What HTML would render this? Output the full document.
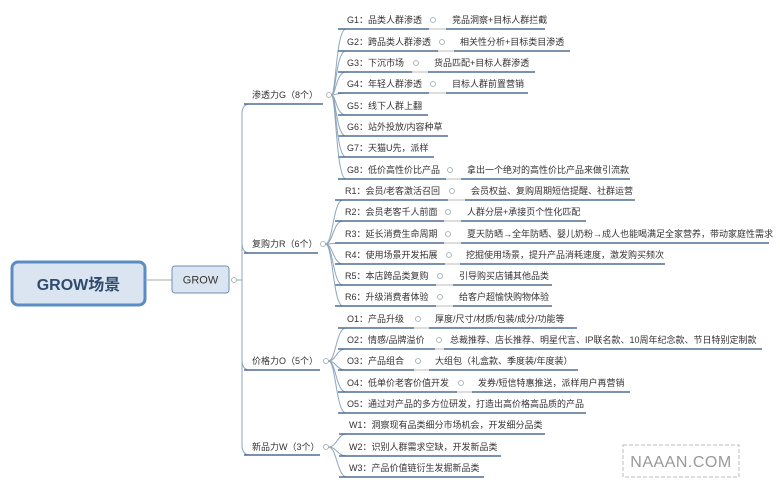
<!DOCTYPE html>
<html><head><meta charset="utf-8"><style>
html,body{margin:0;padding:0;background:#fff;}
svg{display:block;font-family:"Liberation Sans","Noto Sans CJK SC",sans-serif;}
text{font-size:9px;fill:#333;}
.u{stroke:#4e6f93;stroke-width:1.6;fill:none;}
.c{stroke:#8ea5bd;stroke-width:1;fill:none;}
.o{fill:#fff;stroke:#9aa;stroke-width:0.8;}
</style></head><body>
<svg width="780" height="488" viewBox="0 0 780 488" xmlns="http://www.w3.org/2000/svg">
<!-- root -->
<rect x="12" y="262" width="133" height="43" rx="6" fill="#dbe5f1" stroke="#5b8cc4" stroke-width="3"/>
<text x="78.5" y="290" text-anchor="middle" style="font-size:16px;font-weight:bold;fill:#2f4b6e">GROW场景</text>
<line x1="145" y1="280" x2="172" y2="280" stroke="#aaa" stroke-width="1"/>
<rect x="172" y="266" width="57" height="27" rx="3" fill="#dbe5f1" stroke="#6d8fb5" stroke-width="1"/>
<text x="200.5" y="283.5" text-anchor="middle" style="font-size:11px;fill:#333">GROW</text>
<circle class="o" cx="234" cy="280" r="2.5"/>
<!-- level1 trunk -->
<path class="c" d="M236.5,280 H242"/>
<path class="c" d="M250,104 Q242,104 242,114 V445 Q242,455 250,455"/>
<path class="c" d="M242,243 Q242,253 250,253"/>
<path class="c" d="M242,360 Q242,370 250,370"/>
<line class="u" x1="244" y1="104" x2="323" y2="104"/>
<line class="u" x1="244" y1="253" x2="318" y2="253"/>
<line class="u" x1="244" y1="370" x2="320" y2="370"/>
<line class="u" x1="244" y1="455" x2="320" y2="455"/>
<text x="252" y="98">渗透力G（8个）</text>
<text x="252" y="247">复购力R（6个）</text>
<text x="252" y="364">价格力O（5个）</text>
<text x="252" y="450">新品力W（3个）</text>
<circle class="o" cx="329" cy="95" r="2.5"/>
<circle class="o" cx="323" cy="244" r="2.5"/>
<circle class="o" cx="326" cy="361" r="2.5"/>
<circle class="o" cx="326" cy="447" r="2.5"/>
<g id="rows"></g>
<!-- watermark -->
<rect x="623" y="445" width="116" height="32" fill="#fff" stroke="#bbb" stroke-width="1" stroke-dasharray="4,2"/>
<text x="681" y="467" text-anchor="middle" style="font-size:16px;fill:#999;letter-spacing:0.5px">NAAAN.COM</text>
</svg>
<script>
var rows=[
 // group circle x,y, trunk x, label x, [y,label,circle,secondX,second,end]
 [329,95,336,347,[
  [20,"G1：品类人群渗透",433,452,"竞品洞察+目标人群拦截",545],
  [42,"G2：跨品类人群渗透",442,460,"相关性分析+目标类目渗透",570],
  [63,"G3：下沉市场",416,434,"货品匹配+目标人群渗透",535],
  [84,"G4：年轻人群渗透",433,452,"目标人群前置营销",528],
  [106,"G5：线下人群上翻",0,0,"",428],
  [127,"G6：站外投放/内容种草",0,0,"",448],
  [148,"G7：天猫U先，派样",0,0,"",434],
  [170,"G8：低价高性价比产品",450,467,"拿出一个绝对的高性价比产品来做引流款",630]]],
 [323,244,333,345,[
  [191,"R1：会员/老客激活召回",452,471,"会员权益、复购周期短信提醒、社群运营",635],
  [212,"R2：会员老客千人前面",448,467,"人群分层+承接页个性化匹配",586],
  [234,"R3：延长消费生命周期",448,467,"夏天防晒→全年防晒、婴儿奶粉→成人也能喝满足全家营养，带动家庭性需求",769],
  [255,"R4：使用场景开发拓展",449,466,"挖掘使用场景，提升产品消耗速度，激发购买频次",665],
  [276,"R5：本店跨品类复购",440,459,"引导购买店铺其他品类",552],
  [297,"R6：升级消费者体验",440,459,"给客户超愉快购物体验",552]]],
 [326,361,336,347,[
  [319,"O1：产品升级",418,435,"厚度/尺寸/材质/包装/成分/功能等",577],
  [340,"O2：情感/品牌溢价",439,450,"总裁推荐、店长推荐、明星代言、IP联名款、10周年纪念款、节日特别定制款",762],
  [361,"O3：产品组合",418,435,"大组包（礼盒款、季度装/年度装）",578],
  [383,"O4：低单价老客价值开发",461,478,"发券/短信特惠推送，派样用户再营销",630],
  [404,"O5：通过对产品的多方位研发，打造出高价格高品质的产品",0,0,"",586]]],
 [326,447,337,349,[
  [425,"W1：洞察现有品类细分市场机会，开发细分品类",0,0,"",545],
  [447,"W2：识别人群需求空缺，开发新品类",0,0,"",501],
  [468,"W3：产品价值链衍生发掘新品类",0,0,"",484]]]
];
var s="";
rows.forEach(function(g){
 var cx=g[0],cy=g[1],tx=g[2],lx=g[3];
 g[4].forEach(function(r){
  var uy=r[0]+9;
  s+='<path class="c" d="M'+(cx+2.5)+','+cy+' C'+tx+','+cy+' '+tx+','+uy+' '+(tx+10)+','+uy+'"/>';
  if(r[2]){
   s+='<line class="u" x1="'+(tx+2)+'" y1="'+uy+'" x2="'+(r[2]-4)+'" y2="'+uy+'"/>';
   s+='<line class="u" x1="'+(r[3]-6)+'" y1="'+uy+'" x2="'+r[5]+'" y2="'+uy+'"/>';
   s+='<line x1="'+(r[2]-4)+'" y1="'+uy+'" x2="'+(r[3]-6)+'" y2="'+uy+'" stroke="#bbb" stroke-width="1"/>';
   s+='<circle class="o" cx="'+r[2]+'" cy="'+r[0]+'" r="2.5"/>';
   s+='<text x="'+r[3]+'" y="'+(r[0]+3)+'">'+r[4]+'</text>';
  } else {
   s+='<line class="u" x1="'+(tx+2)+'" y1="'+uy+'" x2="'+r[5]+'" y2="'+uy+'"/>';
  }
  s+='<text x="'+lx+'" y="'+(r[0]+3)+'">'+r[1]+'</text>';
 });
});
document.getElementById("rows").innerHTML=s;
</script>
</body></html>
